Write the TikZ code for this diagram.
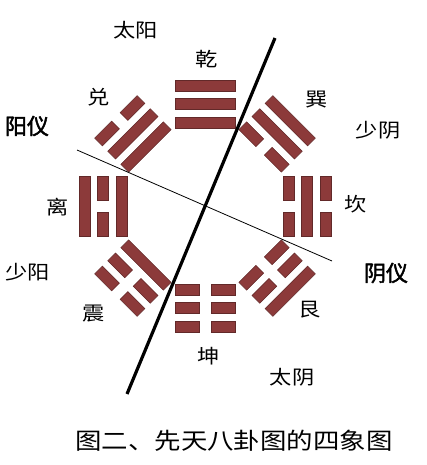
\documentclass[tikz,border=0pt]{standalone}
\usepackage{fontspec}
\newfontfamily\cjk[FakeStretch=1.15]{Noto Sans CJK SC}
\newfontfamily\cjkbold[FakeBold=2]{Noto Sans CJK SC}
\definecolor{yaored}{RGB}{140,58,58}
\tikzset{
  yaobar/.style={fill=yaored,draw=yaored!70!black,line width=0.4pt},
  guaname/.style={font=\cjk\fontsize{14.5}{16}\selectfont,inner sep=0.75pt},
  xiangname/.style={font=\cjk\fontsize{14.5}{16}\selectfont,inner sep=0.75pt},
  yiname/.style={font=\cjkbold\fontsize{16.5}{18}\selectfont,inner sep=0.75pt}
}
% one line of a trigram: #1 local y, #2 = 1 solid, 0 broken
\newcommand{\yao}[2]{%
  \ifnum#2=1
    \filldraw[yaobar] (-30,#1-5.5) rectangle (30,#1+5.5);
  \else
    \filldraw[yaobar] (-30,#1-5.5) rectangle (-6,#1+5.5);
    \filldraw[yaobar] (6,#1-5.5) rectangle (30,#1+5.5);
  \fi}
% trigram turned by #1, lines #2 (top, outer) #3 #4 (bottom, inner)
\newcommand{\gua}[4]{%
  \begin{scope}[shift={(205,206)},rotate=#1]
    \yao{-120.5}{#2}\yao{-102}{#3}\yao{-83.5}{#4}
  \end{scope}}
\begin{document}
\begin{tikzpicture}[x=0.75pt,y=0.75pt,yscale=-1]
\useasboundingbox (0,0) rectangle (426,465);

%Shape: trigrams
\gua{0}{1}{1}{1}     % qian
\gua{45}{1}{1}{0}    % xun
\gua{90}{0}{1}{0}    % kan
\gua{135}{1}{0}{0}   % gen
\gua{180}{0}{0}{0}   % kun
\gua{225}{0}{0}{1}   % zhen
\gua{270}{1}{0}{1}   % li
\gua{315}{0}{1}{1}   % dui

%Straight Lines
\draw [line width=2.4pt]  (275,38) -- (127,394) ;
%Straight Lines
\draw [line width=0.6pt]  (77,150) -- (332,261) ;

% Text Node
\node [xiangname] (taiyang) at (136,30) {太阳};
% Text Node
\node [guaname] (qian) at (207,59) {乾};
% Text Node
\node [guaname] (dui) at (99,97) {兑};
% Text Node
\node [yiname] (yangyi) at (27,126) {阳仪};
% Text Node
\node [guaname] (xun) at (317,100) {巽};
% Text Node
\node [xiangname] (shaoyin) at (378,130) {少阴};
% Text Node
\node [guaname] (li) at (58,207) {离};
% Text Node
\node [guaname] (kan) at (356,204) {坎};
% Text Node
\node [xiangname] (shaoyang) at (28,272) {少阳};
% Text Node
\node [yiname] (yinyi) at (386,273) {阴仪};
% Text Node
\node [guaname] (zhen) at (94,314) {震};
% Text Node
\node [guaname] (gen) at (310,310) {艮};
% Text Node
\node [guaname] (kun) at (209,356) {坤};
% Text Node
\node [xiangname] (taiyin) at (292,377) {太阴};
% Text Node
\node [font=\cjk\fontsize{17.25}{19}\selectfont,inner sep=0.75pt] (caption) at (234,441) {图二、先天八卦图的四象图};

\end{tikzpicture}
\end{document}
